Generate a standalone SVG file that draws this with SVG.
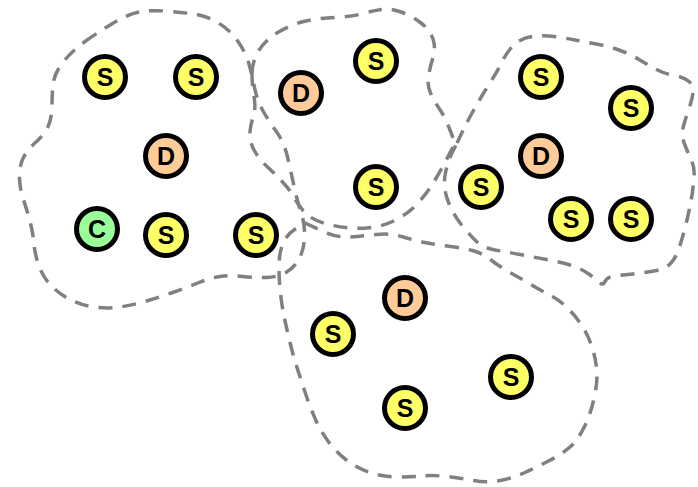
<svg xmlns="http://www.w3.org/2000/svg" width="698" height="487" viewBox="0 0 698 487">
<style>
.hull{fill:none;stroke:#808080;stroke-width:3.5;stroke-dasharray:14,10;stroke-linejoin:round}
.n circle{stroke:#000;stroke-width:5}
.s circle{fill:#ffff66}
.d circle{fill:#ffcc99}
.c circle{fill:#99ff99}
.n text{font-family:"Liberation Sans",Arial,sans-serif;font-weight:bold;font-size:25px;text-anchor:middle;fill:#000}
</style>
<rect width="698" height="487" fill="#fff"/>
<g id="outlines">
<path id="hull1" class="hull" d="M85,41.5 Q97,33 112.5,23.5 Q128,14 139,12 Q150,10 165,11 Q180,12 193.5,14 Q207,16 218.5,23 Q230,30 238,41.5 Q246,53 249,64 Q252,75 254.5,87.5 Q257,100 262.5,110 Q268,120 276,131 Q284,142 287.5,157 Q291,172 294,186 Q297,200 301,212 Q305,224 304.5,237 Q304,250 299,259 Q294,268 286,272.5 Q278,277 266.5,277.5 Q255,278 242.5,276.5 Q230,275 220,276.5 Q210,278 199,282.5 Q188,287 174,292 Q160,297 146.5,301 Q133,305 120,307 Q107,309 93.5,307 Q80,305 69,299 Q58,293 50.5,285 Q43,277 39,266 Q35,255 34,244 Q33,233 30,221.5 Q27,210 23.5,200 Q20,190 19.5,178.5 Q19,167 23,158.5 Q27,150 35.5,142.5 Q44,135 48,126.5 Q52,118 52,105 Q52,92 53.5,82 Q55,72 64,61 Q73,50 85,41.5 Z"/>
<path id="hull2" class="hull" d="M252,73.5 Q252,62 258.5,51 Q265,40 278.5,32 Q292,24 306,21 Q320,18 335,17.5 Q350,17 361,14 Q372,11 381,9.5 Q390,8 401,12 Q412,16 421,23 Q430,30 433,39 Q436,48 433,57.5 Q430,67 428.5,76 Q427,85 430.5,93 Q434,101 439.5,109 Q445,117 450,130 L455,143 L447.5,157.5 Q440,172 433.5,182.5 Q427,193 418.5,202.5 Q410,212 398.5,218.5 Q387,225 374.5,227 Q362,229 349.5,228 Q337,227 325,223.5 Q313,220 306.5,214 Q300,208 295,199 Q290,190 283,182.5 Q276,175 267,166.5 Q258,158 253.5,149 Q249,140 250,131.5 Q251,123 253.5,115.5 Q256,108 254,96.5 Q252,85 252,73.5 Z"/>
<path id="hull3" class="hull" d="M457,143 L462,132.5 Q467,122 474,109.5 Q481,97 489,84.5 Q497,72 502.5,61 Q508,50 515,44 Q522,38 532.5,36.5 Q543,35 554,36.5 Q565,38 575,40 Q585,42 596.5,44 Q608,46 619,50 Q630,54 639,59.5 Q648,65 656.5,69.5 Q665,74 674.5,75.5 Q684,77 689,81.5 Q694,86 693,93 Q692,100 689,108.5 Q686,117 683.5,126 Q681,135 684.5,144 Q688,153 691.5,160.5 Q695,168 694,179 Q693,190 691,201 Q689,212 686,224 Q683,236 679.5,247 Q676,258 670.5,263.5 Q665,269 654,271 Q643,273 632.5,274 Q622,275 614.5,276 Q607,277 605,281.5 Q603,286 599.5,282.5 Q596,279 588,273.5 Q580,268 570,265 Q560,262 546.5,259.5 Q533,257 520,254.5 Q507,252 495,250 Q483,248 475.5,240.5 Q468,233 460.5,223.5 Q453,214 448,201 Q443,188 445,175.5 Q447,163 452,153 L457,143 Z"/>
<path id="hull4" class="hull" d="M305,223 L321,230.5 Q337,238 350,237 Q363,236 376.5,234.5 Q390,233 401.5,236.5 Q413,240 425,242.5 Q437,245 450,246.5 Q463,248 472.5,250.5 Q482,253 491,260 Q500,267 510,272.5 Q520,278 530,284 Q540,290 549,294.5 Q558,299 566,306.5 Q574,314 580.5,323.5 Q587,333 591,344 Q595,355 596.5,367.5 Q598,380 594.5,396.5 Q591,413 584.5,426.5 Q578,440 570,447 Q562,454 549.5,460.5 Q537,467 525,472.5 Q513,478 500,480.5 Q487,483 473.5,480.5 Q460,478 446.5,476.5 Q433,475 421.5,476 Q410,477 396.5,477 Q383,477 370,472.5 Q357,468 347,460.5 Q337,453 329,442.5 Q321,432 315.5,419.5 Q310,407 305.5,393.5 Q301,380 297,367.5 Q293,355 290,342.5 Q287,330 284.5,318.5 Q282,307 280.5,293.5 Q279,280 279,266.5 Q279,253 283,243.5 Q287,234 296,228.5 L305,223 Z"/>
</g>
<g id="n1" class="n s"><circle cx="105" cy="77" r="20.5"/><text x="105" y="86">S</text></g>
<g id="n2" class="n s"><circle cx="196" cy="77" r="20.5"/><text x="196" y="86">S</text></g>
<g id="n3" class="n d"><circle cx="166" cy="156" r="20.5"/><text x="166" y="165">D</text></g>
<g id="n4" class="n c"><circle cx="97" cy="229" r="20.5"/><text x="97" y="238">C</text></g>
<g id="n5" class="n s"><circle cx="166" cy="235" r="20.5"/><text x="166" y="244">S</text></g>
<g id="n6" class="n s"><circle cx="256" cy="235" r="20.5"/><text x="256" y="244">S</text></g>
<g id="n7" class="n d"><circle cx="301" cy="93" r="20.5"/><text x="301" y="102">D</text></g>
<g id="n8" class="n s"><circle cx="376" cy="61" r="20.5"/><text x="376" y="70">S</text></g>
<g id="n9" class="n s"><circle cx="376" cy="187" r="20.5"/><text x="376" y="196">S</text></g>
<g id="n10" class="n s"><circle cx="541" cy="77" r="20.5"/><text x="541" y="86">S</text></g>
<g id="n11" class="n s"><circle cx="631" cy="108" r="20.5"/><text x="631" y="117">S</text></g>
<g id="n12" class="n d"><circle cx="541" cy="156" r="20.5"/><text x="541" y="165">D</text></g>
<g id="n13" class="n s"><circle cx="481" cy="187" r="20.5"/><text x="481" y="196">S</text></g>
<g id="n14" class="n s"><circle cx="571" cy="219" r="20.5"/><text x="571" y="228">S</text></g>
<g id="n15" class="n s"><circle cx="631" cy="219" r="20.5"/><text x="631" y="228">S</text></g>
<g id="n16" class="n d"><circle cx="405" cy="298" r="20.5"/><text x="405" y="307">D</text></g>
<g id="n17" class="n s"><circle cx="333" cy="334" r="20.5"/><text x="333" y="343">S</text></g>
<g id="n18" class="n s"><circle cx="511" cy="377" r="20.5"/><text x="511" y="386">S</text></g>
<g id="n19" class="n s"><circle cx="405" cy="408" r="20.5"/><text x="405" y="417">S</text></g>
</svg>
